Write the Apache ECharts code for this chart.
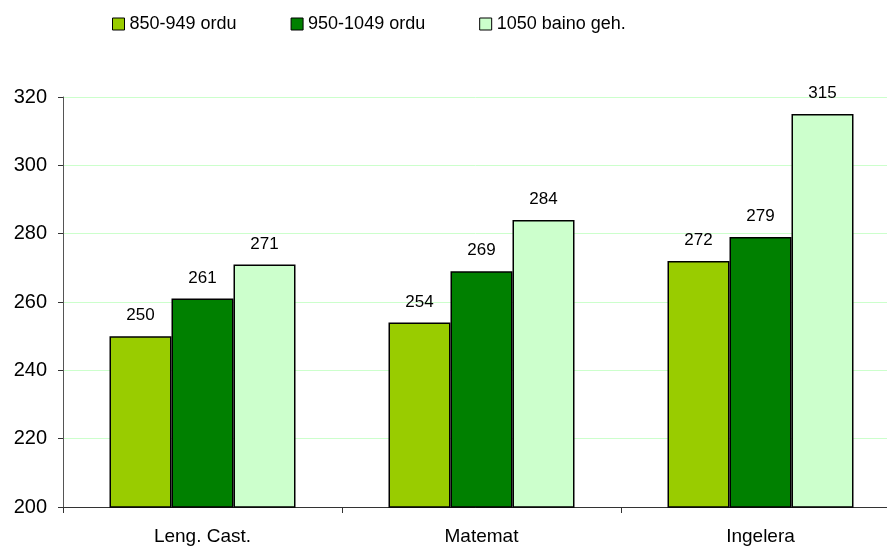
<!DOCTYPE html>
<html>
<head>
<meta charset="utf-8">
<script src="https://cdn.jsdelivr.net/npm/echarts@6/dist/echarts.min.js"></script>
<style>
  html, body { margin: 0; padding: 0; background: #fff; }
  #chart { width: 887px; height: 547px; }
</style>
</head>
<body>
<div id="chart"></div>
<script>
var categories = ['Leng. Cast.', 'Matemat', 'Ingelera'];
var seriesNames = ['850-949 ordu', '950-1049 ordu', '1050 baino geh.'];
var lowGroup = [250, 254, 272];
var midGroup = [261, 269, 279];
var highGroup = [271, 284, 315];
var colors = ['#99CC00', '#008000', '#CCFFCC'];

var chart = echarts.init(document.getElementById('chart'));

function makeSeries(name, data, color) {
  return {
    name: name,
    type: 'bar',
    data: data,
    barWidth: 62,
    barGap: '0%',
    itemStyle: { color: color, borderColor: '#000', borderWidth: 1.5 },
    label: {
      show: true,
      position: 'top',
      distance: 12,
      color: '#000',
      fontFamily: 'Liberation Sans',
      fontSize: 17
    }
  };
}

var option = {
  animation: false,
  backgroundColor: '#fff',
  legend: {
    top: 10,
    left: 107,
    itemWidth: 12,
    itemHeight: 12,
    itemGap: 54,
    icon: 'rect',
    itemStyle: { borderColor: '#000', borderWidth: 1 },
    textStyle: { fontFamily: 'Liberation Sans', fontSize: 18, color: '#000' },
    data: seriesNames
  },
  grid: { left: 63, top: 97, width: 837, height: 410, outerBoundsMode: 'none' },
  xAxis: {
    type: 'category',
    data: categories,
    axisLine: { lineStyle: { color: '#333', width: 1 } },
    axisTick: { show: true, length: 6, lineStyle: { color: '#333' } },
    axisLabel: { color: '#000', fontFamily: 'Liberation Sans', fontSize: 19, margin: 20 }
  },
  yAxis: {
    type: 'value',
    min: 200,
    max: 320,
    interval: 20,
    axisLine: { show: true, lineStyle: { color: '#555', width: 1 } },
    axisTick: { show: true, length: 5, lineStyle: { color: '#333' } },
    axisLabel: { color: '#000', fontFamily: 'Liberation Sans', fontSize: 20, margin: 16 },
    splitLine: { lineStyle: { color: '#CCFFCC', width: 1 } }
  },
  series: [
    makeSeries(seriesNames[0], lowGroup, colors[0]),
    makeSeries(seriesNames[1], midGroup, colors[1]),
    makeSeries(seriesNames[2], highGroup, colors[2])
  ]
};

chart.setOption(option);
</script>
</body>
</html>
